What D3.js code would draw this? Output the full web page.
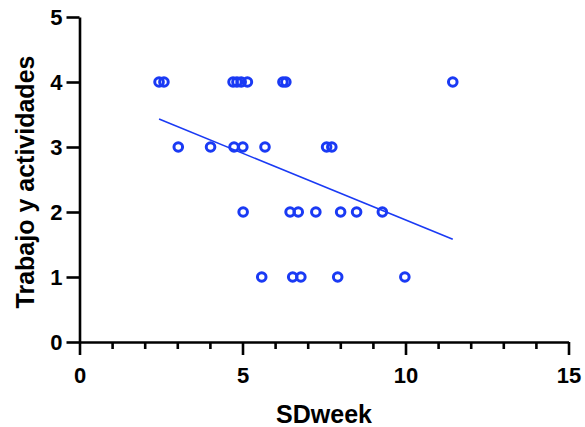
<!DOCTYPE html>
<html>
<head>
<meta charset="utf-8">
<script src="https://cdn.jsdelivr.net/npm/d3@7"></script>
<style>
  html, body { margin: 0; padding: 0; background: #fff; }
  svg { display: block; }
  text { font-family: "Liberation Sans", Arial, Helvetica, sans-serif; font-weight: bold; fill: #000; }
</style>
</head>
<body>
<svg id="chart" width="585" height="427"></svg>
<script>
// ---- data ----
const sdweek = [
  2.44, 2.59, 4.71, 4.83, 4.96, 5.15, 6.24, 6.33, 11.45,
  3.03, 4.02, 4.74, 5.01, 5.69, 7.58, 7.74,
  5.02, 6.46, 6.71, 7.25, 8.01, 8.50, 9.29,
  5.59, 6.54, 6.79, 7.92, 9.98
];
const trabajo = [
  4, 4, 4, 4, 4, 4, 4, 4, 4,
  3, 3, 3, 3, 3, 3, 3,
  2, 2, 2, 2, 2, 2, 2,
  1, 1, 1, 1, 1
];
const fitX = [2.44, 11.45];
const fitY = [3.43, 1.58];
const xTicks = [0, 5, 10, 15];
const xMinorTicks = [1, 2, 3, 4, 6, 7, 8, 9, 11, 12, 13, 14];
const yTicks = [0, 1, 2, 3, 4, 5];
const xTitle = "SDweek";
const yTitle = "Trabajo y actividades";

// ---- drawing ----
const svg = d3.select("#chart");
const blue = "#1a3af4";
const x = d3.scaleLinear().domain([0, 15]).range([79.5, 568.5]);
const y = d3.scaleLinear().domain([0, 5]).range([342, 17]);

// minor x ticks
const gMinor = svg.append("g").attr("transform", `translate(0,${y(0)})`)
  .call(d3.axisBottom(x).tickValues(xMinorTicks).tickSize(7).tickFormat(""));
gMinor.select(".domain").remove();
gMinor.selectAll("line").attr("stroke", "#000").attr("stroke-width", 2.6);

// major x axis
const gx = svg.append("g").attr("transform", `translate(0,${y(0)})`)
  .call(d3.axisBottom(x).tickValues(xTicks).tickSize(13).tickSizeOuter(0).tickPadding(12).tickFormat(d3.format("d")));
gx.select(".domain").attr("stroke", "#000").attr("stroke-width", 2.6);
gx.selectAll("line").attr("stroke", "#000").attr("stroke-width", 2.6);
gx.selectAll("text").attr("font-size", 22).attr("font-family", null);

// y axis
const gy = svg.append("g").attr("transform", `translate(${x(0)},0)`)
  .call(d3.axisLeft(y).tickValues(yTicks).tickSize(13).tickSizeOuter(0).tickPadding(4).tickFormat(d3.format("d")));
gy.select(".domain").attr("stroke", "#000").attr("stroke-width", 2.6);
gy.selectAll("line").attr("stroke", "#000").attr("stroke-width", 2.6);
gy.selectAll("text").attr("font-size", 22).attr("font-family", null);

// titles
svg.append("text").attr("x", (x(0) + x(15)) / 2).attr("y", 423)
  .attr("text-anchor", "middle").attr("font-size", 25).text(xTitle);
svg.append("text").attr("transform", `translate(34,182) rotate(-90)`)
  .attr("text-anchor", "middle").attr("font-size", 25).text(yTitle);

// fit line
const line = d3.line().x(d => x(d[0])).y(d => y(d[1]));
svg.append("path").datum(d3.zip(fitX, fitY)).attr("d", line)
  .attr("fill", "none").attr("stroke", blue).attr("stroke-width", 1.6);

// points
svg.append("g").selectAll("circle").data(d3.zip(sdweek, trabajo)).join("circle")
  .attr("cx", d => x(d[0])).attr("cy", d => y(d[1])).attr("r", 4.3)
  .attr("fill", "none").attr("stroke", blue).attr("stroke-width", 3);
</script>
</body>
</html>
